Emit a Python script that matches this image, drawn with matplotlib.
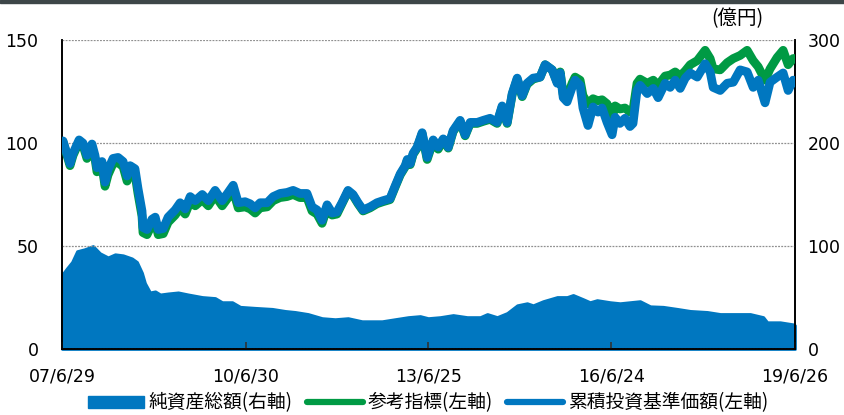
import matplotlib
matplotlib.use("Agg")
import matplotlib.pyplot as plt
import matplotlib.dates as mdates
from matplotlib.lines import Line2D
from matplotlib.patches import Patch, Rectangle
import pandas as pd

# ---------------- data ----------------
line_dates = [
    '2007-06-29', '2007-07-05', '2007-08-16', '2007-09-03', '2007-10-09', '2007-11-01', '2007-11-25', '2007-12-25',
    '2008-01-12', '2008-01-24', '2008-02-23', '2008-03-12', '2008-03-30', '2008-04-29', '2008-05-29', '2008-06-28',
    '2008-07-22', '2008-08-09', '2008-09-07', '2008-09-25', '2008-10-19', '2008-10-25', '2008-11-18', '2008-12-18',
    '2009-01-06', '2009-01-24', '2009-02-23', '2009-03-24', '2009-05-05', '2009-06-04', '2009-07-04', '2009-08-03',
    '2009-09-02', '2009-10-14', '2009-11-19', '2009-12-30', '2010-02-10', '2010-03-18', '2010-04-17', '2010-05-17',
    '2010-06-27', '2010-07-27', '2010-08-26', '2010-09-25', '2010-11-06', '2010-12-12', '2011-01-22', '2011-03-05',
    '2011-04-10', '2011-05-21', '2011-07-02', '2011-08-01', '2011-08-31', '2011-09-30', '2011-10-30', '2011-11-29',
    '2011-12-28', '2012-01-27', '2012-03-03', '2012-04-02', '2012-05-02', '2012-06-01', '2012-07-13', '2012-08-23',
    '2012-09-28', '2012-11-09', '2012-12-09', '2013-01-09', '2013-02-08', '2013-02-20', '2013-03-10', '2013-03-27',
    '2013-04-20', '2013-05-20', '2013-06-19', '2013-07-25', '2013-08-24', '2013-09-23', '2013-10-23', '2013-11-21',
    '2014-01-02', '2014-02-01', '2014-03-03', '2014-04-14', '2014-05-20', '2014-06-30', '2014-08-11', '2014-09-10',
    '2014-10-10', '2014-11-09', '2014-12-09', '2015-01-08', '2015-02-06', '2015-03-14', '2015-04-25', '2015-05-25',
    '2015-07-06', '2015-08-05', '2015-08-23', '2015-09-10', '2015-10-03', '2015-11-02', '2015-11-20', '2015-12-20',
    '2016-01-06', '2016-02-05', '2016-03-06', '2016-04-05', '2016-04-29', '2016-05-29', '2016-06-28', '2016-07-16',
    '2016-08-14', '2016-09-13', '2016-10-13', '2016-10-31', '2016-11-24', '2016-12-12', '2017-01-24', '2017-03-01',
    '2017-03-30', '2017-05-11', '2017-06-10', '2017-07-10', '2017-08-09', '2017-09-08', '2017-10-08', '2017-11-19',
    '2018-01-05', '2018-02-04', '2018-02-22', '2018-04-05', '2018-05-17', '2018-06-22', '2018-08-02', '2018-09-13',
    '2018-10-19', '2018-11-18', '2018-12-29', '2019-01-28', '2019-03-11', '2019-04-16', '2019-05-16', '2019-06-15',
    '2019-06-26',
]

fund_nav = [  # 累積投資基準価額 (left axis)
    100, 101, 90, 95, 101.5, 100, 94, 99.5,
    94, 88, 91, 81, 87, 92.5, 93, 91,
    84, 89, 87.5, 78, 67, 59, 58, 63,
    64, 58, 58.5, 64, 67.5, 71, 68, 74,
    72, 75, 72, 77, 72, 76, 79.5, 71,
    71.5, 70.5, 68.5, 71, 71, 74, 75.5, 76,
    77, 75.5, 75.5, 69, 67.5, 62.5, 70, 66,
    66.5, 71, 77, 75, 71, 67.5, 69, 71,
    72, 73, 79, 85, 89, 92, 90, 95,
    98, 105, 93, 101.5, 98, 102, 98, 106,
    111, 104, 110, 110, 111, 112, 110, 118,
    110, 124, 131.5, 123, 129, 131.5, 132, 138,
    135.5, 129, 134, 122, 120, 127, 130.5, 128,
    117, 108.5, 117.5, 115, 117, 110, 104, 112.5,
    109.5, 112, 108, 109.5, 125.5, 128, 124, 126.5,
    122, 129, 127, 130.5, 126.5, 131.5, 134, 132,
    138.5, 134.5, 127, 125.5, 129, 129.5, 135.5, 134.5,
    127, 130.5, 119.5, 129.5, 132, 134, 125.5, 130.5,
    129.5,
]

benchmark = [  # 参考指標 (left axis)
    100, 100.5, 89, 94, 100.5, 99, 92.5, 98,
    92.5, 86, 89, 79, 84.5, 90, 90.5, 88.5,
    81.5, 86.5, 85, 75.5, 64.5, 56.5, 55.5, 60.5,
    61.5, 55.5, 56, 61.5, 65, 68.5, 65.5, 71.5,
    69.5, 72.5, 69.5, 74.5, 69.5, 73.5, 77, 68.5,
    69, 68, 66, 68.5, 69, 72, 73.5, 74,
    75, 73.5, 73.5, 67, 65.5, 61, 68.5, 65,
    65.5, 70.5, 76.5, 74.5, 70.5, 67, 68.5, 70.5,
    71.5, 72.5, 78.5, 84.5, 88.5, 91.5, 89.5, 94.5,
    97.5, 104.5, 92, 101, 97, 101.5, 97.5, 105.5,
    110.5, 103.5, 109.5, 109.5, 110.5, 111.5, 109.5, 117.5,
    109.5, 123.5, 131, 122.5, 128.5, 131, 132, 138,
    135.5, 129.5, 134.5, 123.5, 122, 129, 132, 130.5,
    123, 119, 121.5, 120.5, 121, 119, 112, 118,
    116.5, 117, 115, 116, 129, 131, 129, 130.5,
    128, 132.5, 133, 134.5, 132.5, 135, 138, 140,
    145, 141, 136, 135.5, 139, 141, 142.5, 145,
    140, 137, 130.5, 136, 141.5, 145, 138, 141,
    141,
]

asset_dates = [
    '2007-06-29', '2007-07-29', '2007-08-28', '2007-09-27', '2007-11-13', '2007-12-31', '2008-02-11', '2008-03-30',
    '2008-05-11', '2008-06-28', '2008-08-20', '2008-09-19', '2008-10-19', '2008-11-06', '2008-12-06', '2009-01-06',
    '2009-02-05', '2009-03-24', '2009-05-23', '2009-07-22', '2009-10-14', '2009-12-30', '2010-02-10', '2010-04-11',
    '2010-05-29', '2010-08-26', '2010-12-06', '2011-02-21', '2011-04-22', '2011-07-08', '2011-09-30', '2011-12-17',
    '2012-03-03', '2012-05-26', '2012-09-22', '2012-12-09', '2013-02-26', '2013-05-08', '2013-06-25', '2013-09-05',
    '2013-11-21', '2014-02-13', '2014-05-02', '2014-06-13', '2014-08-11', '2014-10-10', '2014-12-09', '2015-02-06',
    '2015-03-14', '2015-05-13', '2015-08-05', '2015-10-03', '2015-11-08', '2016-01-06', '2016-02-17', '2016-03-30',
    '2016-06-16', '2016-08-14', '2016-10-13', '2016-12-12', '2017-02-11', '2017-04-29', '2017-07-22', '2017-10-08',
    '2018-01-17', '2018-04-05', '2018-06-22', '2018-10-01', '2018-12-18', '2019-01-11', '2019-03-29', '2019-06-15',
    '2019-06-26',
]

net_assets = [  # 純資産総額 (億円, right axis)
    72, 78.5, 84.5, 95, 97, 100, 93, 89,
    92, 91, 88, 84.5, 74, 64, 55, 56,
    53, 54, 55, 53, 50.5, 49.5, 45.5, 45.5,
    41, 40, 39, 37, 36, 34, 30, 29,
    30, 27, 27, 29, 31, 32, 30, 31,
    33, 31, 31, 34, 31, 35, 42.5, 44.5,
    42.5, 46.5, 50.5, 50.5, 52.5, 48.5, 45.5, 47.5,
    45.5, 44.5, 45.5, 46.5, 41.5, 41, 39, 37,
    36, 34, 34, 34, 31, 26, 26, 24,
    23,
]

x_tick_dates = ['2007-06-29', '2010-06-30', '2013-06-25', '2016-06-24', '2019-06-26']
x_tick_labels = ['07/6/29', '10/6/30', '13/6/25', '16/6/24', '19/6/26']
left_ticks = [0, 50, 100, 150]
right_ticks = [0, 100, 200, 300]
series_names = ['純資産総額(右軸)', '参考指標(左軸)', '累積投資基準価額(左軸)']
unit_label = '(億円)'

# ---------------- styling ----------------
BLUE = '#0077C0'
GREEN = '#009A44'
CJK = ['Noto Sans CJK JP', 'DejaVu Sans']

fig = plt.figure(figsize=(8.44, 4.15), dpi=100)
ax = fig.add_axes([62 / 844, 1 - 349 / 415, (795 - 62) / 844, (349 - 40) / 415])
ax2 = ax.twinx()

ld = pd.to_datetime(line_dates)
ad = pd.to_datetime(asset_dates)

ax2.fill_between(ad, net_assets, 0, color=BLUE, edgecolor=BLUE, linewidth=2, zorder=1, clip_on=False)
ax2.set_ylim(0, 300)
ax2.set_yticks(right_ticks)

ax.set_zorder(ax2.get_zorder() + 1)
ax.patch.set_visible(False)
ax.plot(ld, benchmark, color=GREEN, lw=6.3, solid_capstyle='round', solid_joinstyle='round', zorder=3)
ax.plot(ld, fund_nav, color=BLUE, lw=6.3, solid_capstyle='round', solid_joinstyle='round', zorder=4)
ax.set_ylim(0, 150)
ax.set_yticks(left_ticks)
ax.set_xlim(pd.Timestamp(x_tick_dates[0]), pd.Timestamp(x_tick_dates[-1]))
ax.set_xticks(pd.to_datetime(x_tick_dates))
ax.set_xticklabels(x_tick_labels)

for a in (ax, ax2):
    a.spines['top'].set_visible(False)
    for s in ('left', 'right', 'bottom'):
        a.spines[s].set_color('black')
        a.spines[s].set_linewidth(1.2)

ax.grid(axis='y', color='#909090', linestyle=(0, (1.5, 1.0)), linewidth=0.9)
ax.tick_params(axis='y', length=0, pad=17, labelsize=12.5)
ax2.tick_params(axis='y', length=0, pad=9, labelsize=12.5)
ax.tick_params(axis='x', direction='in', length=5, width=1.2, color='#333333', pad=13, labelsize=12.5)
for lab in ax.get_xticklabels() + ax.get_yticklabels() + ax2.get_yticklabels():
    lab.set_family('DejaVu Sans')

fig.text(737 / 844, 1 - 19 / 415, unit_label, ha='center', va='center', fontsize=14, family=CJK)

# top dark bar
fig.patches.append(Rectangle((0, 1 - 3 / 415), 1, 3 / 415, transform=fig.transFigure,
                             color='#3D4648', zorder=0))

handles = [
    Patch(facecolor=BLUE, edgecolor=BLUE),
    Line2D([], [], color=GREEN, lw=4.5, solid_capstyle='round'),
    Line2D([], [], color=BLUE, lw=4.5, solid_capstyle='round'),
]
leg = fig.legend(handles, series_names, loc='center', bbox_to_anchor=(428 / 844, 1 - 403 / 415),
                 ncol=3, frameon=False, prop={'family': CJK, 'size': 13.5},
                 handlelength=3.0, handleheight=0.65, handletextpad=0.25, columnspacing=0.75,
                 borderpad=0, borderaxespad=0)

fig.savefig('out.png', dpi=100)
